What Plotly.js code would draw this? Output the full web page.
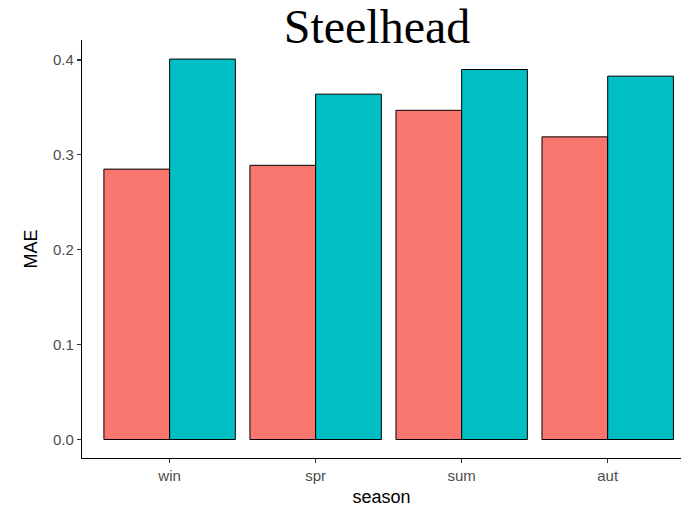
<!DOCTYPE html>
<html>
<head>
<meta charset="utf-8">
<script src="https://cdn.plot.ly/plotly-3.0.1.min.js"></script>
<style>
  html, body { margin: 0; padding: 0; background: #ffffff; }
  #chart { width: 681px; height: 509px; }
</style>
</head>
<body>
<div id="chart"></div>
<script>
// Mean absolute error by season for two models
const seasons = ['win', 'spr', 'sum', 'aut'];
const maeFirst = [0.285, 0.289, 0.347, 0.319];
const maeSecond = [0.401, 0.364, 0.390, 0.383];
const yTickVals = [0, 0.1, 0.2, 0.3, 0.4];
const yTickText = ['0.0', '0.1', '0.2', '0.3', '0.4'];

const barLine = { color: '#000000', width: 1 };

const traces = [
  {
    type: 'bar', x: seasons, y: maeFirst, name: 'a',
    marker: { color: '#F8766D', line: barLine },
    hoverinfo: 'x+y'
  },
  {
    type: 'bar', x: seasons, y: maeSecond, name: 'b',
    marker: { color: '#00BFC4', line: barLine },
    hoverinfo: 'x+y'
  }
];

const tickFont = { family: 'Liberation Sans, Arial, sans-serif', size: 15, color: '#4D4D4D' };
const axisTitleFont = { family: 'Liberation Sans, Arial, sans-serif', size: 18, color: '#000000' };

const layout = {
  width: 681, height: 509,
  margin: { l: 82, r: 0, t: 40, b: 51, pad: 0 },
  paper_bgcolor: '#ffffff', plot_bgcolor: '#ffffff',
  showlegend: false,
  barmode: 'group', bargap: 0.1, bargroupgap: 0,
  title: {
    text: 'Steelhead',
    font: { family: 'Liberation Serif, Times New Roman, serif', size: 48, color: '#000000' },
    xref: 'paper', x: 0.4925, xanchor: 'center',
    yref: 'container', y: 0.982, yanchor: 'top'
  },
  xaxis: {
    type: 'category',
    range: [-0.6, 3.502],
    showgrid: false, zeroline: false,
    showline: true, linecolor: '#000000', linewidth: 1.1,
    ticks: 'outside', ticklen: 4, tickwidth: 1.1, tickcolor: '#333333',
    tickfont: tickFont,
    title: { text: 'season', font: axisTitleFont, standoff: 7 }
  },
  yaxis: {
    range: [-0.0195, 0.4211],
    tickvals: yTickVals, ticktext: yTickText,
    showgrid: false, zeroline: false,
    showline: true, linecolor: '#000000', linewidth: 1.1,
    ticks: 'outside', ticklen: 4, tickwidth: 1.1, tickcolor: '#333333',
    tickfont: tickFont,
    title: { text: 'MAE', font: axisTitleFont, standoff: 10 }
  }
};

Plotly.newPlot('chart', traces, layout, { displayModeBar: false, staticPlot: true });
</script>
</body>
</html>
